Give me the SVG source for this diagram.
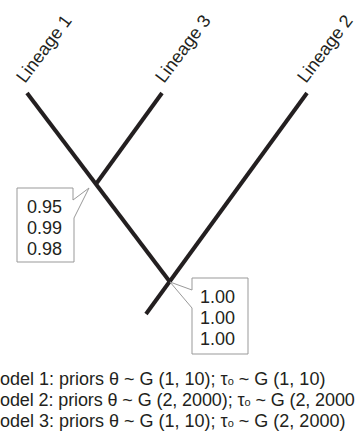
<svg xmlns="http://www.w3.org/2000/svg" width="358" height="444" viewBox="0 0 358 444">
<style>
text{font-family:"Liberation Sans",Arial,Helvetica,sans-serif;fill:#231f20;}
.lab{font-size:18px;}
.num{font-size:18px;}
.cap{font-size:18px;}
.br{stroke:#231f20;stroke-width:4;fill:none;stroke-linecap:butt;}
.box{fill:#fff;stroke:#999;stroke-width:1;}
</style>
<rect width="358" height="444" fill="#fff"/>
<g id="connectors">
<line class="br" x1="27" y1="93" x2="170" y2="282"/>
<line class="br" x1="162" y1="93" x2="96" y2="184"/>
<line class="br" x1="307" y1="93" x2="146" y2="314"/>
</g>
<g id="lineage1"><text class="lab" transform="translate(25,84) rotate(-53)">Lineage 1</text></g>
<g id="lineage3"><text class="lab" transform="translate(164,84) rotate(-53)">Lineage 3</text></g>
<g id="lineage2"><text class="lab" transform="translate(306,84) rotate(-53)">Lineage 2</text></g>
<g id="support1">
<path class="box" d="M17,188 H73 V200 L89,188 L74,218 V262 H17 Z"/>
<text class="num" x="27" y="213">0.95</text>
<text class="num" x="27" y="234">0.99</text>
<text class="num" x="27" y="255">0.98</text>
</g>
<g id="support2">
<path class="box" d="M192,278 H248 V354 H192 V308 L170,282 L192,290 Z"/>
<text class="num" x="200" y="303">1.00</text>
<text class="num" x="200" y="324">1.00</text>
<text class="num" x="200" y="345">1.00</text>
</g>
<g id="legend">
<text class="cap" x="0" y="385">odel 1: priors θ ~ G (1, 10); τ<tspan font-size="11">o</tspan> ~ G (1, 10)</text>
<text class="cap" x="0" y="406" letter-spacing="-0.1">odel 2: priors θ ~ G (2, 2000); τ<tspan font-size="11">o</tspan> ~ G (2, 2000</text>
<text class="cap" x="0" y="427">odel 3: priors θ ~ G (1, 10); τ<tspan font-size="11">o</tspan> ~ G (2, 2000)</text>
</g>
</svg>
